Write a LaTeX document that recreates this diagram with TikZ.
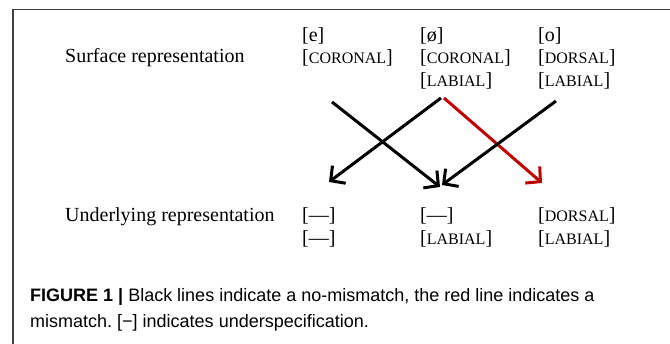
\documentclass[tikz,border=0pt]{standalone}
\usepackage{fontspec}
\setmainfont{Liberation Serif}
\newfontfamily\capfont{Liberation Sans}
\usetikzlibrary{arrows.meta}
\definecolor{mmred}{RGB}{192,0,0}
\newcommand\smc[1]{{\fontsize{16}{16}\selectfont #1}}
\frenchspacing
\begin{document}
\begin{tikzpicture}[x=1pt,y=-1pt,
  lbl/.style={anchor=base west, inner sep=0pt, font=\fontsize{20}{23}\selectfont},
  captxt/.style={anchor=base west, inner sep=0pt, font=\capfont\fontsize{18}{22}\selectfont},
  arr/.style={line width=3pt, -{Straight Barb[length=10.5pt,width=22pt,line width=3pt]}},
  frameline/.style={line width=1.3pt, black!75}]
\useasboundingbox (0,0) rectangle (670,344);
\draw[frameline] (670,9.5) -- (13,9.5) -- (13,344);
% surface
\node[lbl] (surf) at (65,63) {Surface representation};
\node[lbl] (e1) at (302,42) {[e]};
\node[lbl] (e2) at (302,64) {[\smc{CORONAL}]};
\node[lbl] (oe1) at (420,42) {[ø]};
\node[lbl] (oe2) at (420,64) {[\smc{CORONAL}]};
\node[lbl] (oe3) at (420,87) {[\smc{LABIAL}]};
\node[lbl] (o1) at (538,42) {[o]};
\node[lbl] (o2) at (538,64) {[\smc{DORSAL}]};
\node[lbl] (o3) at (538,87) {[\smc{LABIAL}]};
% underlying
\node[lbl] (under) at (65,222) {Underlying representation};
\node[lbl] (d1) at (302,222) {[—]};
\node[lbl] (d2) at (302,245) {[—]};
\node[lbl] (m1) at (420,222) {[—]};
\node[lbl] (m2) at (420,245) {[\smc{LABIAL}]};
\node[lbl] (r1) at (538,222) {[\smc{DORSAL}]};
\node[lbl] (r2) at (538,245) {[\smc{LABIAL}]};
% arrows
\coordinate (s1) at (332,102); \coordinate (t1) at (440,187);
\coordinate (s2) at (441,98);  \coordinate (t2) at (329,182);
\coordinate (s3) at (444,98);  \coordinate (t3) at (542,183);
\coordinate (s4) at (556,101); \coordinate (t4) at (442,185);
\draw[arr] (s1) -- (t1);
\draw[arr] (s2) -- (t2);
\draw[arr, mmred] (s3) -- (t3);
\draw[arr] (s4) -- (t4);
% caption
\node[captxt] (cap1) at (30,302) {{\bfseries FIGURE 1 |} Black lines indicate a no-mismatch, the red line indicates a};
\node[captxt] (cap2) at (30,328) {mismatch. [−] indicates underspecification.};
\end{tikzpicture}
\end{document}
